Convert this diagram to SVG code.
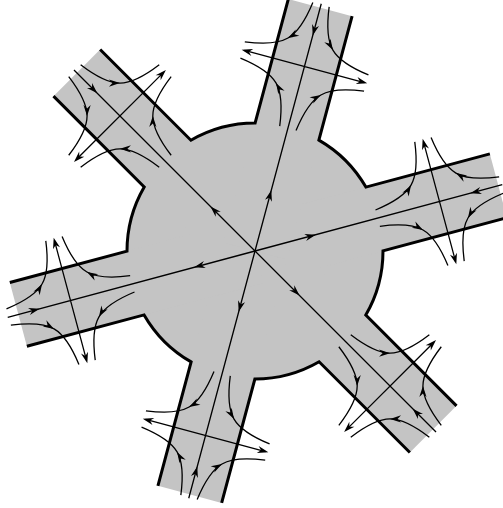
<svg xmlns="http://www.w3.org/2000/svg" width="503" height="508" viewBox="0 0 503 508">
<style>
.fill{fill:#c4c4c4;stroke:none}
.edge{fill:none;stroke:#000;stroke-width:3;stroke-linejoin:miter;stroke-linecap:butt}
.flow{fill:none;stroke:#000;stroke-width:1.3}
.ah{fill:#000;stroke:none}
</style>
<defs>
<path id="ah" class="ah" d="M0,0 L-11,-3.6 L-7.5,0 L-11,3.6 Z"/>
<rect id="armFill" class="fill" x="0" y="-33" width="252" height="66"/>
<path id="armEdge" class="edge" d="M252,33 L123.67,33 A128,128 0 0 1 90.42,90.6 L154.58,201.74"/>
<g id="armFlow">
  <path class="flow" d="M0,0 H256 M191,-62 V62"/>
  <path class="flow" d="M255,8.44 C215.14,13.69 204.69,24.14 199.44,64"/>
  <path class="flow" d="M255,-8.44 C215.14,-13.69 204.69,-24.14 199.44,-64"/>
  <path class="flow" d="M127,8.44 C166.86,13.69 177.31,24.14 182.56,64"/>
  <path class="flow" d="M127,-8.44 C166.86,-13.69 177.31,-24.14 182.56,-64"/>
  <use href="#ah" transform="translate(63,0)"/>
  <use href="#ah" transform="translate(223,0) rotate(180)"/>
  <use href="#ah" transform="translate(191,65) rotate(90)"/>
  <use href="#ah" transform="translate(191,-65) rotate(-90)"/>
  <use href="#ah" transform="translate(214.24,23.24) rotate(135)"/>
  <use href="#ah" transform="translate(214.24,-23.24) rotate(-135)"/>
  <use href="#ah" transform="translate(167.76,23.24) rotate(45)"/>
  <use href="#ah" transform="translate(167.76,-23.24) rotate(-45)"/>
</g>
</defs>
<g id="body" transform="translate(255,251)">
  <circle class="fill" cx="0" cy="0" r="128"/>
  <use href="#armFill" transform="rotate(-15)"/>
  <use href="#armFill" transform="rotate(45)"/>
  <use href="#armFill" transform="rotate(105)"/>
  <rect class="fill" x="0" y="-33" width="245" height="66" transform="rotate(165)"/>
  <use href="#armFill" transform="rotate(225)"/>
  <use href="#armFill" transform="rotate(285)"/>
</g>
<g id="outline" transform="translate(255,251)">
  <use href="#armEdge" transform="rotate(-15)"/>
  <use href="#armEdge" transform="rotate(45)"/>
  <path class="edge" d="M252,33 L123.67,33 A128,128 0 0 1 90.42,90.6 L151.08,195.68" transform="rotate(105)"/>
  <path class="edge" d="M245,33 L123.67,33 A128,128 0 0 1 90.42,90.6 L154.58,201.74" transform="rotate(165)"/>
  <use href="#armEdge" transform="rotate(225)"/>
  <use href="#armEdge" transform="rotate(285)"/>
</g>
<g id="connectors" transform="translate(255,251)">
  <g id="arm-ene"><use href="#armFlow" transform="rotate(-15)"/></g>
  <g id="arm-se"><use href="#armFlow" transform="rotate(45)"/></g>
  <g id="arm-ssw"><use href="#armFlow" transform="rotate(105)"/></g>
  <g id="arm-wsw"><use href="#armFlow" transform="rotate(165)"/></g>
  <g id="arm-nw"><use href="#armFlow" transform="rotate(225)"/></g>
  <g id="arm-nne"><use href="#armFlow" transform="rotate(285)"/></g>
</g>
</svg>
